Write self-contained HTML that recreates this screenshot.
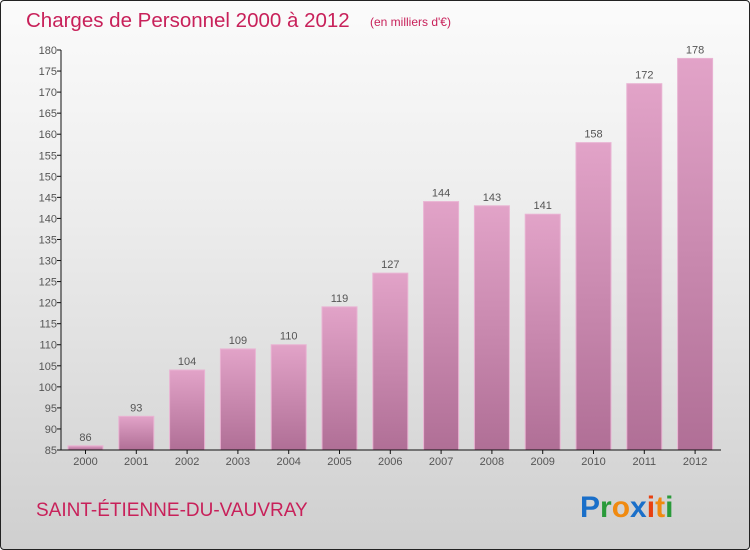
<!DOCTYPE html>
<html><head><meta charset="utf-8"><style>
html,body{margin:0;padding:0;}
body{width:750px;height:550px;overflow:hidden;font-family:"Liberation Sans",sans-serif;}
#frame{position:absolute;left:0;top:0;width:748px;height:548px;border:1px solid #222;border-radius:4px;background:linear-gradient(#fbfbfb 0%,#ececec 40%,#cfcfcf 100%);}
</style></head><body>
<div id="frame"></div>
<svg id="chart" width="750" height="550" style="position:absolute;left:0;top:0">
<defs>
<linearGradient id="barg" x1="0" y1="0" x2="0" y2="1"><stop offset="0" stop-color="#e2a3c8"/><stop offset="1" stop-color="#b06f96"/></linearGradient>
</defs>
<text x="26" y="27" font-size="20.5" fill="#c8215a">Charges de Personnel 2000 à 2012</text>
<text x="370" y="26" font-size="12" fill="#c8215a">(en milliers d'€)</text>
<text x="36" y="516" font-size="19" fill="#c8215a">SAINT-ÉTIENNE-DU-VAUVRAY</text>
<g font-size="30" font-weight="bold" font-family="'Liberation Sans',sans-serif">
<text x="580" y="517"><tspan fill="#1a6fc9">P</tspan><tspan fill="#2a9a3a">r</tspan><tspan fill="#f08a10">o</tspan><tspan fill="#1a6fc9">x</tspan><tspan fill="#e84010">i</tspan><tspan fill="#f08a10">t</tspan><tspan fill="#2a9a3a">i</tspan></text>
</g>
<g id="yaxis"></g><g id="bars"></g><g id="xaxis"></g>
</svg>
<script>
const years=["2000","2001","2002","2003","2004","2005","2006","2007","2008","2009","2010","2011","2012"];
const values=[86,93,104,109,110,119,127,144,143,141,158,172,178];
const yTicks=[85,90,95,100,105,110,115,120,125,130,135,140,145,150,155,160,165,170,175,180];
const NS="http://www.w3.org/2000/svg";
const yMin=85,yMax=180,top_=50,bot=450,left=61;
function y(v){return bot-(v-yMin)/(yMax-yMin)*(bot-top_);}
function x(i){return 85.5+i*50.8;}
function mk(t,a,p){const e=document.createElementNS(NS,t);for(const k in a)e.setAttribute(k,a[k]);p.appendChild(e);return e;}
const ya=document.getElementById('yaxis'),bg=document.getElementById('bars'),xa=document.getElementById('xaxis');
const yl=mk('line',{x1:left,y1:top_,x2:left,y2:bot,stroke:'#111','stroke-width':1},ya);


yTicks.forEach(v=>{
 const tk=mk('line',{x1:left-4,y1:y(v),x2:left,y2:y(v),stroke:'#111'},ya);
 
 
 const t=mk('text',{x:left-4,y:y(v)+4,'text-anchor':'end','font-size':11,fill:'#555'},ya);
 t.textContent=v;
 
 
});
values.forEach((v,i)=>{
 const cx=x(i),w=35;
 const r=mk('rect',{x:cx-w/2,y:y(v),width:w,height:bot-y(v),fill:'url(#barg)',stroke:'#e9b3d3','stroke-width':1},bg);
 
 
 const t=mk('text',{x:cx,y:y(v)-5,'text-anchor':'middle','font-size':11,fill:'#555'},bg);
 t.textContent=v;
 
 
 const tk=mk('line',{x1:cx,y1:bot,x2:cx,y2:bot+4,stroke:'#111'},xa);
 
 
 const l=mk('text',{x:cx,y:bot+15,'text-anchor':'middle','font-size':11,fill:'#555'},xa);
 l.textContent=years[i];
 
 
});
const xl=mk('line',{x1:left,y1:bot,x2:721,y2:bot,stroke:'#111','stroke-width':1},xa);


</script>
</body></html>
